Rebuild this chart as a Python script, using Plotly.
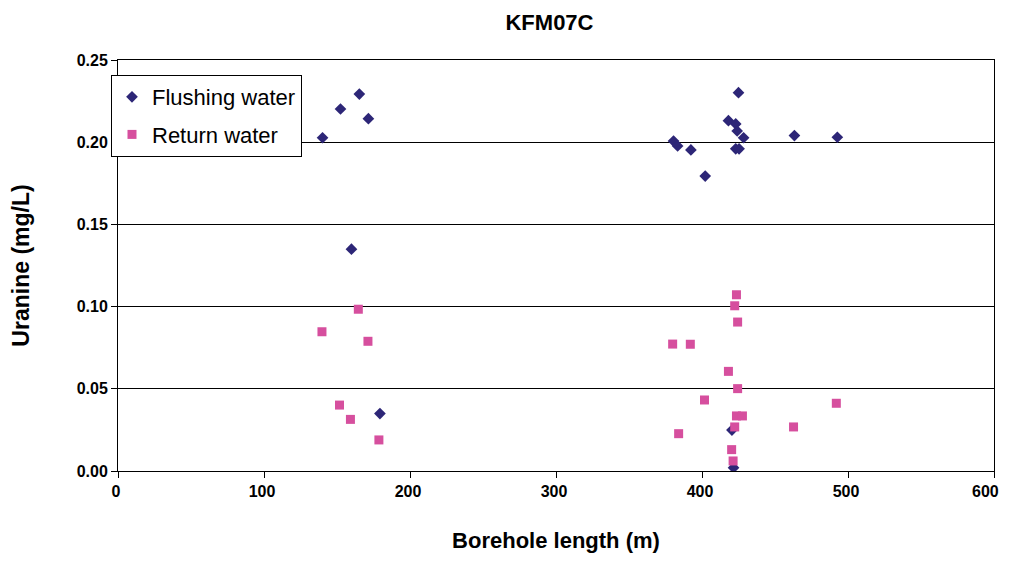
import plotly.graph_objects as go

flush_x = [140.1, 152.4, 165.3, 171.5, 159.9, 179.4, 380.5, 383.3, 392.4, 402.2,
           418.1, 423.1, 424.1, 425.0, 423.1, 425.4, 428.5, 463.3, 492.7, 420.5, 421.6]
flush_y = [0.2027, 0.2202, 0.2293, 0.2143, 0.1349, 0.0349, 0.2007, 0.1977, 0.1953, 0.1794,
           0.2131, 0.2111, 0.2068, 0.2301, 0.1960, 0.1960, 0.2027, 0.2040, 0.2030, 0.0249, 0.0020]

ret_x = [139.7, 151.7, 159.2, 164.6, 171.2, 178.7, 379.9, 384.0, 392.0, 418.1, 401.7,
         423.6, 422.4, 424.4, 424.4, 492.0, 423.6, 427.7, 422.4, 462.7, 420.3, 421.3]
ret_y = [0.0847, 0.0401, 0.0314, 0.0984, 0.0789, 0.0189, 0.0772, 0.0227, 0.0771, 0.0606, 0.0432,
         0.1072, 0.1005, 0.0906, 0.0501, 0.0412, 0.0335, 0.0335, 0.0268, 0.0268, 0.0130, 0.0061]

x_ticks = [0, 100, 200, 300, 400, 500, 600]
y_ticks = [0.00, 0.05, 0.10, 0.15, 0.20, 0.25]

NAVY = "#2D2677"
PINK = "#D64F9E"

fig = go.Figure()
fig.add_trace(go.Scatter(x=flush_x, y=flush_y, mode="markers", name="Flushing water",
                         legendgroup="a",
                         marker=dict(symbol="diamond", size=9, color=NAVY)))
fig.add_trace(go.Scatter(x=ret_x, y=ret_y, mode="markers", name="Return water",
                         legendgroup="b",
                         marker=dict(symbol="square", size=9, color=PINK)))

x_labels = [f"<b>{v}</b>" for v in x_ticks]
x_labels[-1] = x_labels[-1] + "&nbsp;&nbsp;&nbsp;"

font = "Liberation Sans, Arial, sans-serif"
fig.update_layout(
    width=1000, height=545,
    margin=dict(l=110, r=14, t=52, b=82, autoexpand=False),
    paper_bgcolor="white", plot_bgcolor="white",
    font=dict(family=font, color="black"),
    title=dict(text="<b>KFM07C</b>", x=0.5415, xanchor="center", y=0.974, yanchor="middle",
               yref="container", automargin=False,
               font=dict(size=22, family=font, color="black")),
    showlegend=True,
    legend=dict(x=-0.008, y=0.9635, xanchor="left", yanchor="top",
                bgcolor="white", bordercolor="black", borderwidth=1,
                font=dict(size=22, family=font, color="black"),
                traceorder="grouped", tracegroupgap=6),
    xaxis=dict(range=[0, 600], tickvals=x_ticks, ticktext=x_labels,
               showgrid=False, zeroline=False, showline=True, linecolor="black", linewidth=1,
               mirror=True, ticks="outside", ticklen=6, tickcolor="black", automargin=False,
               ticklabeloverflow="allow", ticklabelshift=-2,
               tickfont=dict(size=16, family=font, color="black"),
               title=dict(text="<b>Borehole length (m)</b>", standoff=33,
                          font=dict(size=22, family=font, color="black"))),
    yaxis=dict(range=[0, 0.25], tickvals=y_ticks, ticktext=[f"<b>{v:.2f}</b>" for v in y_ticks],
               showgrid=True, gridcolor="black", gridwidth=1,
               zeroline=False, showline=True, linecolor="black", linewidth=1,
               mirror=True, ticks="outside", ticklen=6, tickcolor="black", automargin=False,
               ticklabeloverflow="allow",
               tickfont=dict(size=16, family=font, color="black"),
               title=dict(text="<b>Uranine (mg/L)</b>", standoff=40,
                          font=dict(size=23, family=font, color="black"))),
)

fig.write_html("out.html")
